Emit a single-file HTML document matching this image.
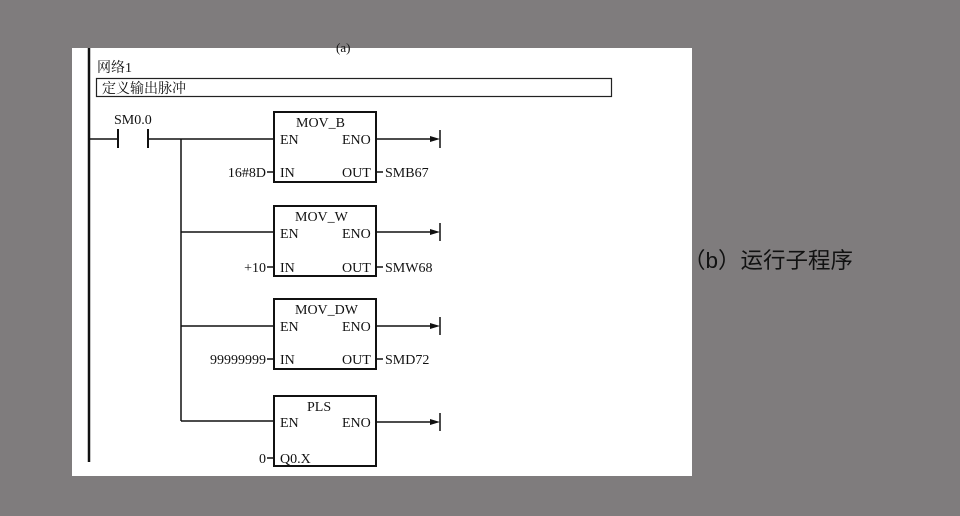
<!DOCTYPE html>
<html><head><meta charset="utf-8"><style>
body{margin:0;width:960px;height:516px;background:#7f7c7d;overflow:hidden;position:relative}
svg{position:absolute;left:0;top:0}
text{font-family:"Liberation Serif","Noto Serif CJK SC",serif;fill:#111}
</style></head><body>
<svg width="960" height="516" viewBox="0 0 960 516">
<rect x="72" y="48" width="620" height="428" fill="#fff"/>
<text x="336" y="52" font-size="13">(a)</text>
<line x1="89" y1="48" x2="89" y2="462" stroke="#111" stroke-width="2.5"/>
<text x="97" y="72" font-size="14">网络1</text>
<rect x="96.5" y="78.5" width="515" height="18" fill="none" stroke="#222" stroke-width="1.2"/>
<text x="102" y="93" font-size="14">定义输出脉冲</text>
<text x="114" y="124" font-size="14">SM0.0</text>
<g stroke="#111" stroke-width="1.5" fill="none">
<line x1="89" y1="139" x2="118" y2="139"/>
<line x1="118" y1="129" x2="118" y2="148" stroke-width="2"/>
<line x1="148" y1="129" x2="148" y2="148" stroke-width="2"/>
<line x1="148" y1="139" x2="274" y2="139"/>
<line x1="181" y1="139" x2="181" y2="421"/>
<line x1="181" y1="232" x2="274" y2="232"/>
<line x1="181" y1="326" x2="274" y2="326"/>
<line x1="181" y1="421" x2="274" y2="421"/>
<rect x="274" y="112" width="102" height="70" stroke-width="2"/>
<rect x="274" y="206" width="102" height="70" stroke-width="2"/>
<rect x="274" y="299" width="102" height="70" stroke-width="2"/>
<rect x="274" y="396" width="102" height="70" stroke-width="2"/>
</g>
<g stroke="#111" stroke-width="1.5">
<line x1="376" y1="139" x2="432" y2="139"/><line x1="440" y1="130" x2="440" y2="148"/>
<line x1="376" y1="232" x2="432" y2="232"/><line x1="440" y1="223" x2="440" y2="241"/>
<line x1="376" y1="326" x2="432" y2="326"/><line x1="440" y1="317" x2="440" y2="335"/>
<line x1="376" y1="422" x2="432" y2="422"/><line x1="440" y1="413" x2="440" y2="431"/>
<line x1="267" y1="172" x2="274" y2="172"/><line x1="376" y1="172" x2="383" y2="172"/>
<line x1="267" y1="267" x2="274" y2="267"/><line x1="376" y1="267" x2="383" y2="267"/>
<line x1="267" y1="359" x2="274" y2="359"/><line x1="376" y1="359" x2="383" y2="359"/>
<line x1="267" y1="458" x2="274" y2="458"/>
</g>
<g fill="#111">
<polygon points="430,136 440,139 430,142"/><polygon points="430,229 440,232 430,235"/>
<polygon points="430,323 440,326 430,329"/><polygon points="430,419 440,422 430,425"/>
</g>
<g font-size="14">
<text x="296" y="127">MOV_B</text><text x="280" y="144">EN</text><text x="342" y="144">ENO</text>
<text x="280" y="177">IN</text><text x="342" y="177">OUT</text>
<text x="266" y="177" text-anchor="end">16#8D</text><text x="385" y="177">SMB67</text>
<text x="295" y="221">MOV_W</text><text x="280" y="238">EN</text><text x="342" y="238">ENO</text>
<text x="280" y="272">IN</text><text x="342" y="272">OUT</text>
<text x="266" y="272" text-anchor="end">+10</text><text x="385" y="272">SMW68</text>
<text x="295" y="314">MOV_DW</text><text x="280" y="331">EN</text><text x="342" y="331">ENO</text>
<text x="280" y="364">IN</text><text x="342" y="364">OUT</text>
<text x="266" y="364" text-anchor="end">99999999</text><text x="385" y="364">SMD72</text>
<text x="307" y="411">PLS</text><text x="280" y="427">EN</text><text x="342" y="427">ENO</text>
<text x="280" y="463">Q0.X</text><text x="266" y="463" text-anchor="end">0</text>
</g>
<text x="683" y="268" font-size="22" textLength="170" lengthAdjust="spacingAndGlyphs" style="font-family:'Liberation Sans','Noto Sans CJK SC',sans-serif" fill="#111">（b）运行子程序</text>
</svg>
</body></html>
